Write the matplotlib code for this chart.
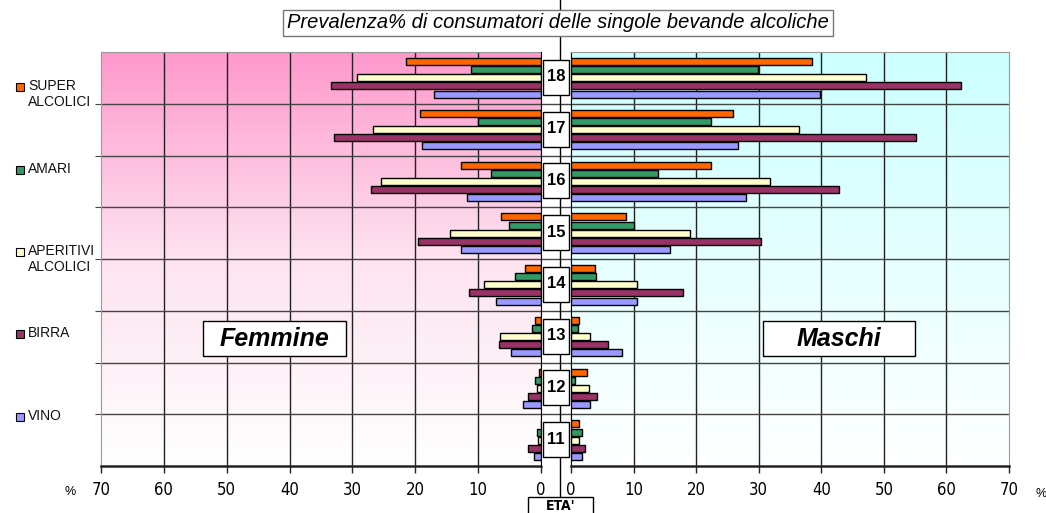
import numpy as np
import matplotlib
matplotlib.use("Agg")
import matplotlib.pyplot as plt
from matplotlib.patches import Rectangle
from matplotlib.colors import LinearSegmentedColormap

plt.rcParams['font.family'] = ['Liberation Sans', 'DejaVu Sans']

# data: ages 11..18, prevalence % per drink
ages = [11, 12, 13, 14, 15, 16, 17, 18]
series_names = ["SUPER\nALCOLICI", "AMARI", "APERITIVI\nALCOLICI", "BIRRA", "VINO"]
series_colors = ["#ff6600", "#339966", "#ffffcc", "#993366", "#9999ff"]

fem_super = [0.0, 0.3, 1.0, 2.6, 6.4, 12.7, 19.3, 21.4]
fem_amari = [0.6, 1.0, 1.5, 4.1, 5.1, 7.9, 10.1, 11.2]
fem_aperitivi = [0.5, 0.6, 6.5, 9.0, 14.4, 25.4, 26.8, 29.3]
fem_birra = [2.1, 2.1, 6.7, 11.4, 19.6, 27.0, 32.9, 33.4]
fem_vino = [1.1, 2.8, 4.8, 7.2, 12.7, 11.8, 19.0, 17.1]

mas_super = [1.2, 2.6, 1.2, 3.8, 8.8, 22.4, 25.9, 38.5]
mas_amari = [1.7, 0.7, 1.1, 4.0, 10.1, 13.9, 22.3, 29.9]
mas_aperitivi = [1.2, 2.9, 3.1, 10.5, 19.0, 31.8, 36.4, 47.2]
mas_birra = [2.3, 4.2, 5.9, 17.9, 30.3, 42.8, 55.1, 62.4]
mas_vino = [1.7, 3.0, 8.2, 10.6, 15.8, 28.0, 26.7, 39.8]

fem = [fem_super, fem_amari, fem_aperitivi, fem_birra, fem_vino]
mas = [mas_super, mas_amari, mas_aperitivi, mas_birra, mas_vino]
xticks = [0, 10, 20, 30, 40, 50, 60, 70]

W, H = 1046, 513
fig = plt.figure(figsize=(W / 100, H / 100), dpi=100)
fig.patch.set_facecolor("white")

narrow = ["Liberation Sans Narrow", "DejaVu Sans"]

def px(x0, y0, x1, y1):
    # pixel box -> figure fraction rect
    return [x0 / W, 1 - y1 / H, (x1 - x0) / W, (y1 - y0) / H]

top, bot = 52, 466
axL = fig.add_axes(px(101, top, 541, bot))
axC = fig.add_axes(px(541, top, 571, bot))
axR = fig.add_axes(px(571, top, 1009, bot))

y = np.arange(len(ages))
pitch = 0.156
bh = 0.135
offsets = [2 * pitch, pitch, 0, -pitch, -2 * pitch]

grad = np.linspace(1, 0, 256).reshape(-1, 1)
cmL = LinearSegmentedColormap.from_list("l", ["#ffffff", "#fde3f0", "#ff99cc"])
cmR = LinearSegmentedColormap.from_list("r", ["#ffffff", "#e6ffff", "#ccffff"])

for ax, data, cm in [(axL, fem, cmL), (axR, mas, cmR)]:
    ax.imshow(grad, cmap=cm, extent=[0, 1, 0, 1], transform=ax.transAxes,
              aspect="auto", zorder=0, vmin=0, vmax=1)
    for vals, col, off in zip(data, series_colors, offsets):
        ax.barh(y + off, vals, height=bh, color=col, edgecolor="black",
                linewidth=1, zorder=3)
    ax.set_xlim(0, 70)
    ax.set_ylim(-0.5, len(ages) - 0.5)
    for v in range(10, 70, 10):
        ax.axvline(v, color="#222222", lw=1, zorder=1)
    for b in np.arange(0.5, len(ages) - 0.5, 1):
        ax.axhline(b, color="#444444", lw=1, zorder=1)
    ax.set_xticks(xticks)
    ax.set_xticklabels([str(t) for t in xticks], family=narrow,
                       fontstretch="condensed", fontsize=12)
    ax.tick_params(axis="x", direction="out", length=5, width=1, pad=6, colors="#222222")
    ax.tick_params(axis="x", labelcolor="black")
    ax.set_yticks([])
    for s in ["top", "left", "right"]:
        ax.spines[s].set_color("#999999")
    ax.spines["bottom"].set_color("#222222")
    ax.spines["bottom"].set_linewidth(1.8)

axL.invert_xaxis()
axL.spines["right"].set_color("black")
axR.spines["left"].set_color("black")
axL.set_yticks(np.arange(0.5, len(ages) - 0.5, 1))
axL.set_yticklabels([])
axL.tick_params(axis="y", direction="out", length=4, colors="#444444")

# center strip with age labels
axC.set_xlim(0, 1)
axC.set_ylim(-0.5, len(ages) - 0.5)
axC.set_xticks([])
axC.set_yticks([])
for s in ["top", "bottom"]:
    axC.spines[s].set_visible(False)
for b in np.arange(0.5, len(ages) - 0.5, 1):
    axC.axhline(b, color="#444444", lw=1, zorder=1)
cx = (560 - 541) / 30
axC.plot([cx, cx], [-31 / 414, 1 + 52 / 414], transform=axC.transAxes,
         color="black", lw=1, clip_on=False, zorder=2)
for yi, age in zip(y, ages):
    axC.add_patch(Rectangle((2 / 30, yi - 0.33), 26 / 30, 0.68, facecolor="white",
                            edgecolor="black", lw=1, zorder=4))
    axC.text(0.5, yi + 0.02, str(age), ha="center", va="center",
             fontsize=12, fontweight="bold", zorder=5)

def box(x0, y0, x1, y1, ec="black", lw=1):
    fig.add_artist(Rectangle((x0 / W, 1 - y1 / H), (x1 - x0) / W, (y1 - y0) / H,
                             transform=fig.transFigure, facecolor="white",
                             edgecolor=ec, lw=lw, zorder=6))

# title
box(283, 10, 833, 36, ec="#777777")
fig.text(558 / W, 1 - 23 / H, "Prevalenza% di consumatori delle singole bevande alcoliche",
         ha="center", va="center", fontsize=14.5, style="italic", zorder=7)

# Femmine / Maschi labels
box(203, 321, 346, 356)
fig.text(274.5 / W, 1 - 338.5 / H, "Femmine", ha="center", va="center",
         fontsize=18, fontweight="heavy", style="italic", zorder=7)
box(763, 321, 915, 356)
fig.text(839 / W, 1 - 338.5 / H, "Maschi", ha="center", va="center",
         fontsize=18, fontweight="heavy", style="italic", zorder=7)

# ETA' box
box(528, 497, 593, 520)
fig.text(560.5 / W, 1 - 506 / H, "ETA'", ha="center", va="center", fontsize=10,
         fontweight="bold", family=narrow, fontstretch="condensed", zorder=7)

# % signs
fig.text(70 / W, 1 - 492 / H, "%", ha="center", va="center", fontsize=9)
fig.text(1041 / W, 1 - 494 / H, "%", ha="center", va="center", fontsize=9)

# legend
leg_y = [87, 170, 252, 334, 417]
for name, col, ly in zip(series_names, series_colors, leg_y):
    fig.add_artist(Rectangle((16 / W, 1 - (ly + 4) / H), 8 / W, 8 / H,
                             transform=fig.transFigure, facecolor=col,
                             edgecolor="black", lw=0.8))
    fig.text(28 / W, 1 - (ly - 8) / H, name, ha="left", va="top", fontsize=10,
             linespacing=1.2, color="#111111")

fig.savefig("out.png", dpi=100)
